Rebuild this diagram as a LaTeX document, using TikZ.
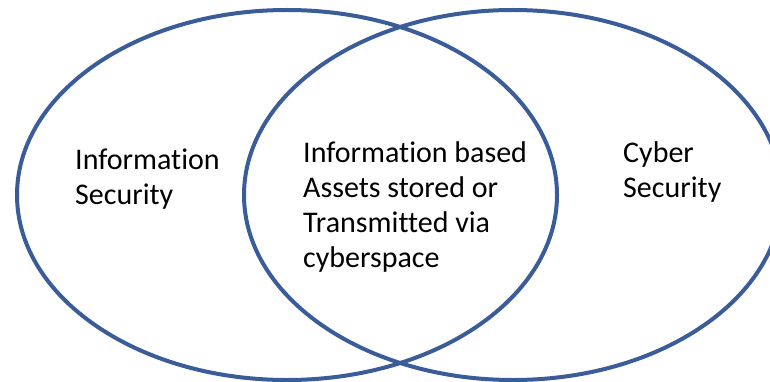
\documentclass[tikz,border=0pt]{standalone}
\usepackage{fontspec}
\setmainfont{Carlito}[Ligatures=NoCommon]
\usepackage{xcolor}
\usepackage{tikz}
\definecolor{ring}{HTML}{3A5C98}
\definecolor{ink}{HTML}{000000}
\tikzset{
  set/.style={draw=ring, line width=4pt},
  lab/.style={text=ink, align=left, inner sep=0pt, anchor=base west,
    font=\fontsize{30}{35}\selectfont},
}
\begin{document}
\begin{tikzpicture}[x=1pt,y=-1pt]
  \useasboundingbox (0,0) rectangle (770,382);
  \coordinate (L) at (287,195);
  \coordinate (R) at (513,195);
  \draw[set] (L) ellipse [x radius=270, y radius=185];
  \draw[set] (R) ellipse [x radius=269, y radius=185];
  % anchors sit on the last line's baseline
  \node[lab] (info) at (75,204) {Information\\Security};
  \node[lab] (both) at (303,267) {Information based\\Assets stored or\\Transmitted via\\cyberspace};
  \node[lab] (cyber) at (623,197) {Cyber\\Security};
\end{tikzpicture}
\end{document}
